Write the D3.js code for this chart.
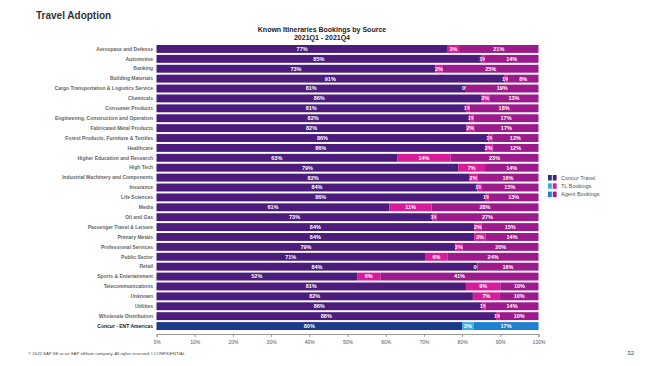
<!DOCTYPE html>
<html>
<head>
<meta charset="utf-8">
<script src="https://cdn.jsdelivr.net/npm/d3@7"></script>
<style>
  body { margin: 0; background: #fff; }
  svg { font-family: "Liberation Sans", Arial, sans-serif; }
</style>
</head>
<body>
<svg id="chart"></svg>
<script>
// Data
const categories = [
  'Aerospace and Defense', 'Automotive', 'Banking', 'Building Materials',
  'Cargo Transportation & Logistics Service', 'Chemicals', 'Consumer Products',
  'Engineering, Construction and Operation', 'Fabricated Metal Products',
  'Forest Products, Furniture & Textiles', 'Healthcare', 'Higher Education and Research',
  'High Tech', 'Industrial Machinery and Components', 'Insurance', 'Life Sciences',
  'Media', 'Oil and Gas', 'Passenger Travel & Leisure', 'Primary Metals',
  'Professional Services', 'Public Sector', 'Retail', 'Sports & Entertainment',
  'Telecommunications', 'Unknown', 'Utilities', 'Wholesale Distribution',
  'Concur - ENT Americas'
];
const concurTravel  = [77, 85, 73, 91, 81, 86, 81, 82, 82, 86, 86, 63, 79, 82, 84, 86, 61, 73, 84, 84, 79, 71, 84, 52, 81, 82, 86, 88, 80];
const tlBookings    = [3, 1, 2, 1, 0, 2, 1, 1, 2, 1, 2, 14, 7, 2, 1, 1, 11, 1, 2, 3, 2, 6, 0, 6, 9, 7, 1, 1, 3];
const agentBookings = [21, 14, 25, 8, 19, 13, 18, 17, 17, 12, 12, 23, 14, 16, 15, 13, 28, 27, 15, 14, 20, 24, 16, 41, 10, 10, 14, 10, 17];
const seriesNames = ['Concur Travel', 'TL Bookings', 'Agent Bookings'];
const xTicks = [0, 0.1, 0.2, 0.3, 0.4, 0.5, 0.6, 0.7, 0.8, 0.9, 1];

const keys = ['concur', 'tl', 'agent'];
const industryColor = { concur: '#4b1c7c', tl: '#d81b9a', agent: '#9b1a8c' };
const totalColor = { concur: '#1b3a8a', tl: '#38aee6', agent: '#1f80cf' };
const totalRow = 'Concur - ENT Americas';

const W = 651, H = 366;
const svg = d3.select('#chart').attr('width', W).attr('height', H);

const rows = categories.map((c, i) => ({
  cat: c, concur: concurTravel[i], tl: tlBookings[i], agent: agentBookings[i]
}));

// bars fill the full width, so each row is expanded to 100%
const stacked = d3.stack().keys(keys).offset(d3.stackOffsetExpand)(rows);

const x = d3.scaleLinear().domain([0, 1]).range([156.5, 538.5]);
const y = d3.scaleBand().domain(categories).range([44, 331]).paddingInner(0.2).paddingOuter(0.1);

// Titles
svg.append('text')
  .attr('x', 36).attr('y', 19)
  .style('font-size', '10px').style('font-weight', 'bold').attr('fill', '#333')
  .text('Travel Adoption');

svg.append('text')
  .attr('x', 322).attr('y', 31.5).attr('text-anchor', 'middle')
  .style('font-size', '7px').style('font-weight', 'bold').attr('fill', '#222')
  .text('Known Itineraries Bookings by Source');
svg.append('text')
  .attr('x', 322).attr('y', 39.5).attr('text-anchor', 'middle')
  .style('font-size', '7px').style('font-weight', 'bold').attr('fill', '#222')
  .text('2021Q1 - 2021Q4');

// Bars
stacked.forEach(layer => {
  const g = svg.append('g');
  g.selectAll('rect')
    .data(layer)
    .join('rect')
    .attr('x', d => x(d[0]))
    .attr('y', d => y(d.data.cat))
    .attr('width', d => x(d[1]) - x(d[0]))
    .attr('height', y.bandwidth())
    .attr('fill', d => d.data.cat === totalRow ? totalColor[layer.key] : industryColor[layer.key]);

  g.selectAll('text')
    .data(layer)
    .join('text')
    .attr('x', d => (x(d[0]) + x(d[1])) / 2)
    .attr('y', d => y(d.data.cat) + y.bandwidth() / 2)
    .attr('dy', '0.35em')
    .attr('text-anchor', 'middle')
    .attr('fill', '#fff')
    .style('font-size', '5.5px')
    .style('font-weight', 'bold')
    .text(d => d.data[layer.key] + '%');
});

// Category labels
svg.append('g').selectAll('text')
  .data(categories)
  .join('text')
  .attr('x', 153)
  .attr('y', d => y(d) + y.bandwidth() / 2)
  .attr('dy', '0.35em')
  .attr('text-anchor', 'end')
  .attr('fill', d => d === totalRow ? '#222' : '#666')
  .style('font-size', '5px')
  .style('font-weight', 'bold')
  .text(d => d);

// X axis
const axis = svg.append('g')
  .attr('transform', 'translate(0,334)')
  .call(d3.axisBottom(x).tickValues(xTicks).tickFormat(d3.format('.0%')).tickSize(3).tickPadding(3));
axis.select('.domain').attr('stroke', '#999');
axis.selectAll('.tick line').attr('stroke', '#999');
axis.selectAll('.tick text').attr('fill', '#555').style('font-size', '5px')
  .style('font-family', '"Liberation Sans", Arial, sans-serif');

// Legend
const legendColors = [
  [totalColor.concur, industryColor.concur],
  [totalColor.tl, industryColor.tl],
  [totalColor.agent, industryColor.agent]
];
const legend = svg.append('g').attr('transform', 'translate(548,175)');
seriesNames.forEach((name, i) => {
  const gy = i * 8.3;
  legend.append('rect').attr('x', 0).attr('y', gy).attr('width', 3.8).attr('height', 5.5).attr('fill', legendColors[i][0]);
  legend.append('rect').attr('x', 4.8).attr('y', gy).attr('width', 3.8).attr('height', 5.5).attr('fill', legendColors[i][1]);
  legend.append('text')
    .attr('x', 13).attr('y', gy + 2.75).attr('dy', '0.35em')
    .attr('fill', '#555').style('font-size', '5.5px')
    .text(name);
});

// Footer
svg.append('text')
  .attr('x', 28).attr('y', 354.5)
  .attr('fill', '#444').style('font-size', '4.3px')
  .text('© 2022 SAP SE or an SAP affiliate company. All rights reserved.  ǀ  CONFIDENTIAL');
svg.append('text')
  .attr('x', 634).attr('y', 355).attr('text-anchor', 'end')
  .attr('fill', '#444').style('font-size', '6px')
  .text('32');
</script>
</body>
</html>
